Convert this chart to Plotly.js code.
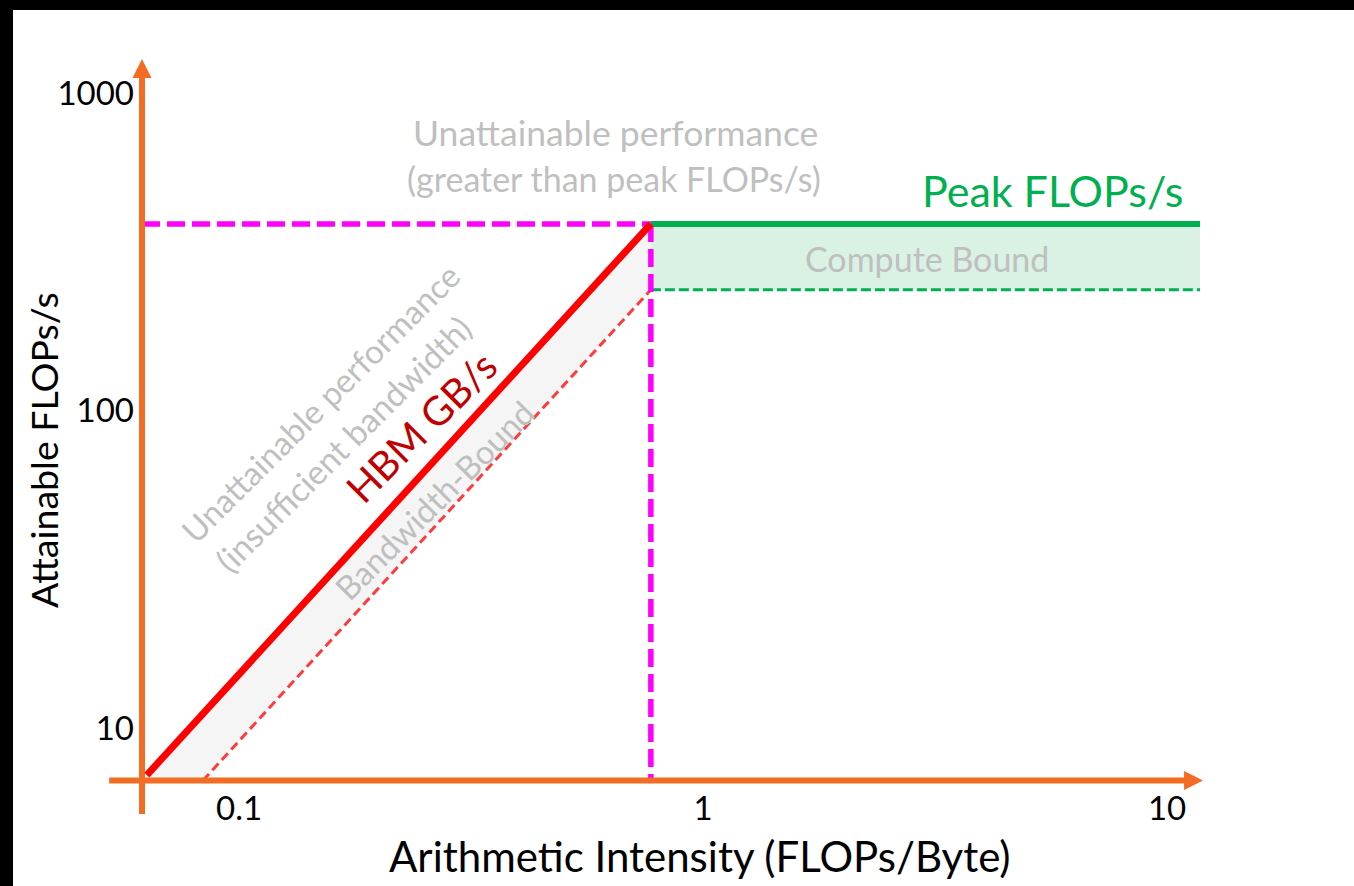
<!DOCTYPE html>
<html><head><meta charset="utf-8">
<script src="https://cdn.plot.ly/plotly-3.0.1.min.js"></script>
<style>
html,body{margin:0;padding:0;background:#000;width:1354px;height:886px;overflow:hidden}
#chart{position:absolute;left:13px;top:10px;width:1341px;height:876px;background:#fff}
</style>
</head><body><div id="chart"></div>
<script>
// ---- data (arithmetic intensity in FLOPs/Byte, attainable FLOPs/s) ----
const ridgeIntensity = 0.772;
const peakFlops = 387;
const computeBoundLow = 240;
const hbmLineIntensity = [0.0633, 0.772];
const hbmLineFlops = [7.11, 387];
const bwBoundIntensity = [0.0836, 0.772];
const bwBoundFlops = [6.83, 240];
const peakLineIntensity = [0.772, 11.78];
const peakLineFlops = [387, 387];
const computeLowIntensity = [0.772, 11.78];
const computeLowFlops = [240, 240];
const peakGuideIntensity = [0.0618, 0.772];
const peakGuideFlops = [387, 387];
const ridgeGuideIntensity = [0.772, 0.772];
const ridgeGuideFlops = [387, 6.83];
const xAxisIntensity = [0.0525, 11.32];
const xAxisFlops = [6.83, 6.83];
const xArrowIntensity = [11.96];
const xArrowFlops = [6.83];
const yAxisIntensity = [0.0618, 0.0618];
const yAxisFlops = [5.36, 1180];
const yArrowIntensity = [0.0618];
const yArrowFlops = [1279];
const xTickVals = [0.1, 1, 10];
const xTickText = ['0.1', '1', '10'];
const yTickVals = [10, 100, 1000];
const yTickText = ['10', '100', '1000'];

const ORANGE = '#F36C24';
const GREY = '#BFBFBF';
const FONT = 'Lato, "Open Sans", sans-serif';

const traces = [
  { // bandwidth-bound grey band
    x: [hbmLineIntensity[0], hbmLineIntensity[1], bwBoundIntensity[1], bwBoundIntensity[0], hbmLineIntensity[0]],
    y: [hbmLineFlops[0], hbmLineFlops[1], bwBoundFlops[1], bwBoundFlops[0], bwBoundFlops[0]],
    mode: 'lines', fill: 'toself', fillcolor: '#F5F5F5', line: {width: 0}, hoverinfo: 'skip'
  },
  { // compute-bound green band
    x: [peakLineIntensity[0], peakLineIntensity[1], computeLowIntensity[1], computeLowIntensity[0], peakLineIntensity[0]],
    y: [peakLineFlops[0], peakLineFlops[1], computeLowFlops[1], computeLowFlops[0], peakLineFlops[0]],
    mode: 'lines', fill: 'toself', fillcolor: '#DAF2E4', line: {width: 0}, hoverinfo: 'skip'
  },
  { x: bwBoundIntensity, y: bwBoundFlops, mode: 'lines', line: {color: '#FF3B3B', width: 3, dash: '9px,5px'} },
  { x: computeLowIntensity, y: computeLowFlops, mode: 'lines', line: {color: '#00B050', width: 3, dash: '10px,4px'} },
  { x: peakGuideIntensity, y: peakGuideFlops, mode: 'lines', line: {color: '#FF00FF', width: 5.5, dash: '18px,7px'} },
  { x: ridgeGuideIntensity, y: ridgeGuideFlops, mode: 'lines', line: {color: '#FF00FF', width: 5.5, dash: '18px,7px'} },
  { x: peakLineIntensity, y: peakLineFlops, mode: 'lines', line: {color: '#00B050', width: 6} },
  { x: xAxisIntensity, y: xAxisFlops, mode: 'lines', line: {color: ORANGE, width: 6} },
  { x: yAxisIntensity, y: yAxisFlops, mode: 'lines', line: {color: ORANGE, width: 6} },
  { x: xArrowIntensity, y: xArrowFlops, mode: 'markers', marker: {symbol: 'arrow-right', size: 19, color: ORANGE} },
  { x: yArrowIntensity, y: yArrowFlops, mode: 'markers', marker: {symbol: 'arrow-up', size: 19, color: ORANGE} },
  { x: hbmLineIntensity, y: hbmLineFlops, mode: 'lines', line: {color: '#FF0000', width: 7} }
];

// plot area in page pixels: x 100..1215, y 50..825
function P(px, py) { return {x: (px - 100) / 1115, y: (825 - py) / 775}; }
function ann(text, px, py, size, color, angle) {
  const p = P(px, py);
  return {xref: 'paper', yref: 'paper', x: p.x, y: p.y, xanchor: 'center', yanchor: 'middle',
    text: text, showarrow: false, textangle: angle || 0, font: {family: FONT, size: size, color: color}};
}

const annotations = [
  ann('Unattainable performance', 615, 132, 35.5, GREY),
  ann('(greater than peak FLOPs/s)', 614, 178, 34, GREY),
  ann('Peak FLOPs/s', 1052, 190, 43, '#00B050'),
  ann('Compute Bound', 927, 258, 34, GREY),
  ann('Unattainable performance', 320, 403, 33, GREY, -45),
  ann('(insufficient bandwidth)', 343, 444, 33.5, GREY, -45),
  ann('HBM GB/s', 421, 427, 40, '#C00000', -45),
  ann('Bandwidth-Bound', 434, 500, 33, GREY, -45),
  ann('Arithmetic Intensity (FLOPs/Byte)', 700, 856, 42, '#000'),
  ann('Attainable FLOPs/s', 43, 450, 37.5, '#000', -90)
];

const layout = {
  width: 1341, height: 876,
  margin: {l: 87, r: 139, t: 40, b: 61, pad: 0},
  paper_bgcolor: '#FFFFFF', plot_bgcolor: 'rgba(0,0,0,0)',
  showlegend: false, hovermode: false,
  font: {family: FONT, color: '#000'},
  xaxis: {type: 'log', range: [-1.2996, 1.1034], anchor: 'free', position: (825 - 780.5) / 775,
    showgrid: false, zeroline: false, showline: false, ticks: '',
    tickmode: 'array', tickvals: xTickVals, ticktext: xTickText,
    tickfont: {family: FONT, size: 33, color: '#000'}, ticklabelstandoff: 5},
  yaxis: {type: 'log', range: [0.6945, 3.1354], anchor: 'free', position: (142 - 100) / 1115,
    showgrid: false, zeroline: false, showline: false, ticks: '',
    tickmode: 'array', tickvals: yTickVals, ticktext: yTickText,
    tickfont: {family: FONT, size: 33, color: '#000'}, ticklabelstandoff: 8},
  annotations: annotations
};

Plotly.newPlot('chart', traces, layout, {staticPlot: true, displayModeBar: false});
</script>
</body></html>
